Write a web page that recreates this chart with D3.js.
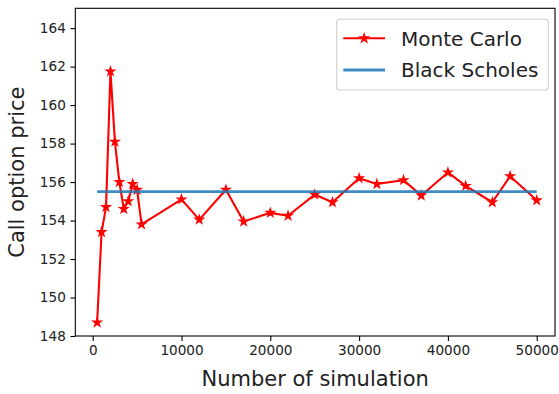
<!DOCTYPE html>
<html>
<head>
<meta charset="utf-8">
<script src="https://cdn.jsdelivr.net/npm/d3@7"></script>
<style>
  body { margin: 0; background: #fff; }
  svg { display: block; font-family: "DejaVu Sans", sans-serif; }
</style>
</head>
<body>
<script>
// number of simulations used for each Monte Carlo estimate
const nSims = [500, 1000, 1500, 2000, 2500, 3000, 3500, 4000, 4500, 5000, 5500,
    10000, 12000, 15000, 17000, 20000, 22000, 25000, 27000, 30000, 32000,
    35000, 37000, 40000, 42000, 45000, 47000, 50000];
// Monte Carlo call prices
const mcPrices = [148.7, 153.4, 154.7, 161.75, 158.1, 156.0, 154.6, 155.0, 155.9, 155.6, 153.8,
    155.1, 154.05, 155.6, 153.95, 154.4, 154.25, 155.35, 154.95, 156.2, 155.9,
    156.1, 155.3, 156.5, 155.8, 154.95, 156.3, 155.05];
// Black Scholes closed-form price
const bsPrice = 155.5;
const xTicks = [0, 10000, 20000, 30000, 40000, 50000];
const yTicks = [148, 150, 152, 154, 156, 158, 160, 162, 164];
const seriesNames = ["Monte Carlo", "Black Scholes"];

const w = 559, h = 394;
const plotLeft = 75.3, plotRight = 555, plotTop = 8.3, plotBottom = 336;
const red = "#ff0000", blue = "#1f77b4";

var svg = d3.select("body")
    .append("svg")
    .attr("width", w)
    .attr("height", h);

let xScale = d3.scaleLinear()
    .domain([-1960, 52060])
    .range([plotLeft, plotRight]);

let yScale = d3.scaleLinear()
    .domain([148, 165.03])
    .range([plotBottom, plotTop]);

// axes
const xAxis = svg.append("g")
    .attr("transform", "translate(0," + plotBottom + ")")
    .call(d3.axisBottom(xScale).tickValues(xTicks).tickFormat(d3.format("d"))
        .tickSize(4.9).tickPadding(4.2));

const yAxis = svg.append("g")
    .attr("transform", "translate(" + plotLeft + ",0)")
    .call(d3.axisLeft(yScale).tickValues(yTicks).tickFormat(d3.format("d"))
        .tickSize(4.9).tickPadding(4.6));

svg.selectAll(".domain").remove();
svg.selectAll(".tick line").attr("stroke", "#000").attr("stroke-width", 1.1);
svg.selectAll(".tick text")
    .attr("fill", "#222")
    .style("font-family", "DejaVu Sans")
    .style("font-size", "13.6px");

// frame
svg.append("rect")
    .attr("x", plotLeft)
    .attr("y", plotTop)
    .attr("width", plotRight - plotLeft)
    .attr("height", plotBottom - plotTop)
    .attr("fill", "none")
    .attr("stroke", "#000")
    .attr("stroke-width", 1.1);

let dat = nSims.map((n, i) => ({n: n, price: mcPrices[i]}));

// monte carlo line + stars
const line = d3.line()
    .x(d => xScale(d.n))
    .y(d => yScale(d.price));

svg.append("path")
    .datum(dat)
    .attr("d", line)
    .attr("fill", "none")
    .attr("stroke", red)
    .attr("stroke-width", 2.1)
    .attr("stroke-linejoin", "round");

const star = d3.symbol().type(d3.symbolStar).size(19.5);

svg.selectAll(".star")
    .data(dat)
    .enter()
    .append("path")
    .attr("class", "star")
    .attr("d", star)
    .attr("transform", d => "translate(" + xScale(d.n) + "," + yScale(d.price) + ")")
    .attr("fill", red)
    .attr("stroke", red)
    .attr("stroke-width", 1.4)
    .attr("stroke-linejoin", "miter");

// black scholes reference line
svg.append("line")
    .attr("x1", xScale(nSims[0]))
    .attr("x2", xScale(nSims[nSims.length - 1]))
    .attr("y1", yScale(bsPrice))
    .attr("y2", yScale(bsPrice))
    .attr("stroke", blue)
    .attr("stroke-opacity", 0.85)
    .attr("stroke-width", 2.8);

// axis labels
svg.append("text")
    .attr("x", (plotLeft + plotRight) / 2)
    .attr("y", 385.5)
    .attr("text-anchor", "middle")
    .attr("fill", "#222")
    .style("font-size", "21px")
    .text("Number of simulation");

svg.append("text")
    .attr("transform", "translate(23.5," + ((plotTop + plotBottom) / 2) + ") rotate(-90)")
    .attr("text-anchor", "middle")
    .attr("fill", "#222")
    .style("font-size", "21px")
    .text("Call option price");

// legend
const legend = svg.append("g");
legend.append("rect")
    .attr("x", 336.7)
    .attr("y", 19.3)
    .attr("width", 211.6)
    .attr("height", 70.7)
    .attr("rx", 3)
    .attr("fill", "#fff")
    .attr("fill-opacity", 0.8)
    .attr("stroke", "#d0d0d0")
    .attr("stroke-width", 1.1);

const rows = legend.selectAll(".row")
    .data(seriesNames)
    .enter()
    .append("g")
    .attr("transform", (d, i) => "translate(0," + (38.3 + i * 31.7) + ")");

rows.append("line")
    .attr("x1", 343.3)
    .attr("x2", 385)
    .attr("stroke", (d, i) => i == 0 ? red : blue)
    .attr("stroke-opacity", (d, i) => i == 0 ? 1 : 0.85)
    .attr("stroke-width", (d, i) => i == 0 ? 2.1 : 2.8);

rows.filter((d, i) => i == 0)
    .append("path")
    .attr("d", star)
    .attr("transform", "translate(364.2,0)")
    .attr("fill", red)
    .attr("stroke", red)
    .attr("stroke-width", 1.4);

rows.append("text")
    .attr("x", 401)
    .attr("dy", "0.36em")
    .attr("fill", "#222")
    .style("font-size", "20px")
    .text(d => d);
</script>
</body>
</html>
